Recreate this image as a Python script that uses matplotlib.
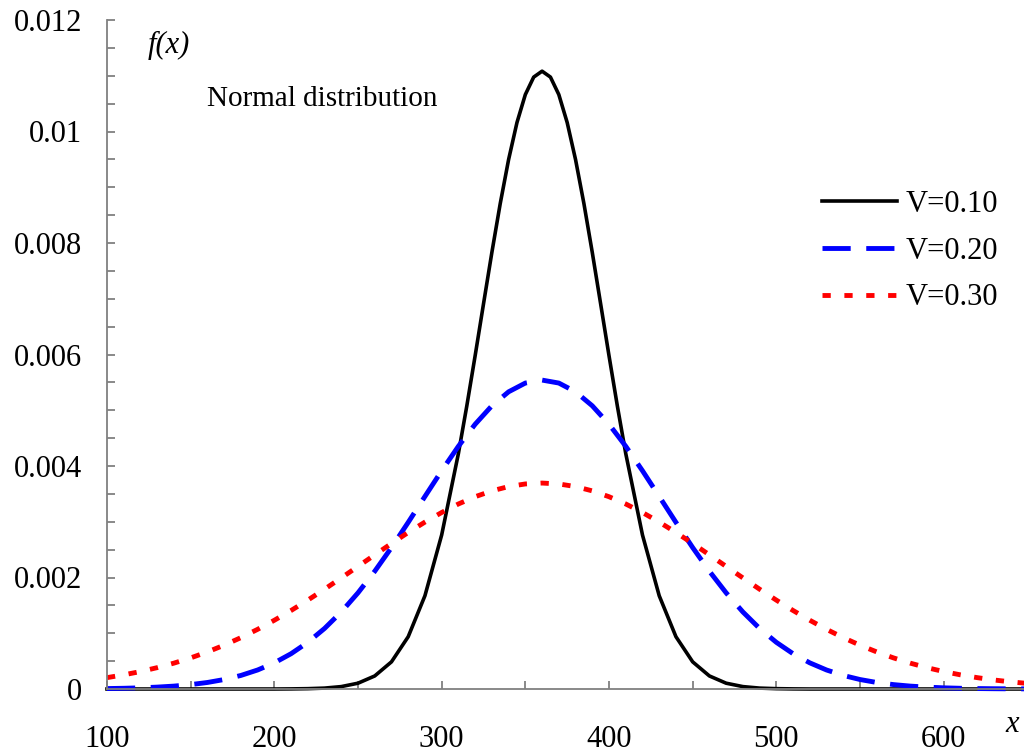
import matplotlib.pyplot as plt
from matplotlib.ticker import MultipleLocator, FuncFormatter

plt.rcParams['font.family'] = ['Liberation Serif', 'DejaVu Serif']

# x values (step 10) and f(x)
x_vals = list(range(100, 651, 10))
# the narrow curve is sampled more finely around its peak
x_v10 = list(range(100, 311, 10)) + list(range(315, 406, 5)) + list(range(410, 651, 10))

f_v10 = [0, 0, 0, 0, 0, 0, 0, 0, 0, 0, 0,
         0.000002, 0.000006, 0.000016, 0.000043, 0.000104, 0.000234, 0.000487,
         0.000938, 0.001673, 0.002763, 0.004224,
         0.005074, 0.005978, 0.006908, 0.007831, 0.008708, 0.009497, 0.010161,
         0.010663, 0.010976, 0.011082, 0.010976, 0.010663, 0.010161, 0.009497,
         0.008708, 0.007831, 0.006908, 0.005978, 0.005074,
         0.004224, 0.002763, 0.001673, 0.000938, 0.000487, 0.000234, 0.000104,
         0.000043, 0.000016, 0.000006, 0.000002,
         0, 0, 0, 0, 0, 0, 0, 0, 0, 0, 0, 0, 0, 0]

f_v20 = [0.000008, 0.000013, 0.000021, 0.000034, 0.000052, 0.000079, 0.000117,
         0.000170, 0.000243, 0.000341, 0.000469, 0.000633, 0.000837, 0.001086,
         0.001382, 0.001725, 0.002112, 0.002537, 0.002989, 0.003454, 0.003915,
         0.004354, 0.004749, 0.005080, 0.005331, 0.005488, 0.005541, 0.005488,
         0.005331, 0.005080, 0.004749, 0.004354, 0.003915, 0.003454, 0.002989,
         0.002537, 0.002112, 0.001725, 0.001382, 0.001086, 0.000837, 0.000633,
         0.000469, 0.000341, 0.000243, 0.000170, 0.000117, 0.000079, 0.000052,
         0.000034, 0.000021, 0.000013, 0.000008, 0.000005, 0.000003, 0.000002]

f_v30 = [0.000204, 0.000254, 0.000313, 0.000383, 0.000464, 0.000558, 0.000665,
         0.000786, 0.000921, 0.001070, 0.001233, 0.001408, 0.001594, 0.001790,
         0.001993, 0.002199, 0.002406, 0.002610, 0.002808, 0.002994, 0.003166,
         0.003319, 0.003449, 0.003554, 0.003631, 0.003678, 0.003694, 0.003678,
         0.003631, 0.003554, 0.003449, 0.003319, 0.003166, 0.002994, 0.002808,
         0.002610, 0.002406, 0.002199, 0.001993, 0.001790, 0.001594, 0.001408,
         0.001233, 0.001070, 0.000921, 0.000786, 0.000665, 0.000558, 0.000464,
         0.000383, 0.000313, 0.000254, 0.000204, 0.000162, 0.000128, 0.000100]

series_labels = ['V=0.10', 'V=0.20', 'V=0.30']

fig = plt.figure(figsize=(10.24, 7.53), dpi=100)
ax = fig.add_axes([107 / 1024, 64 / 753, 917 / 1024, 669 / 753])

ax.plot(x_v10, f_v10, color='black', lw=2.6, label=series_labels[0], clip_on=False)
ax.plot(x_vals, f_v20, color='#0000ff', lw=3.5, dashes=(5.8, 3.2),
        dash_capstyle='butt', label=series_labels[1], clip_on=False)
ax.plot(x_vals, f_v30, color='#ff0000', lw=3.5, dashes=(1.7, 2.8),
        dash_capstyle='butt', label=series_labels[2], clip_on=False)

ax.set_xlim(100, 648)
ax.set_ylim(0, 0.012)

for s in ['top', 'right']:
    ax.spines[s].set_visible(False)
for s in ['left', 'bottom']:
    ax.spines[s].set_color('#808080')
    ax.spines[s].set_linewidth(1.3)

ax.xaxis.set_major_locator(MultipleLocator(100))
ax.xaxis.set_minor_locator(MultipleLocator(50))
ax.yaxis.set_major_locator(MultipleLocator(0.002))
ax.yaxis.set_minor_locator(MultipleLocator(0.0005))
ax.yaxis.set_major_formatter(FuncFormatter(lambda v, p: '0' if v == 0 else ('%.3f' % v).rstrip('0')))

ax.tick_params(which='both', direction='in', color='#808080', width=1.3, length=6)
ax.tick_params(axis='x', which='major', pad=26, labelsize=22)
ax.tick_params(axis='y', which='major', pad=18, labelsize=22)

ax.text(137, 0.01155, 'f(x)', fontsize=22, style='italic', ha='center', va='center')
ax.text(160, 0.01058, 'Normal distribution', fontsize=21, ha='left', va='center')
fig.text(1012 / 1024, 1 - 725 / 753, 'x', fontsize=22, style='italic', ha='center', va='center')

ax.legend(loc='upper left', bbox_to_anchor=(822 / 1024, 1 - 190 / 753),
          bbox_transform=fig.transFigure, frameon=False, fontsize=22,
          handlelength=2.45, handletextpad=0.3, labelspacing=0.58,
          borderpad=0, borderaxespad=0)

fig.savefig('out.png', dpi=100)
